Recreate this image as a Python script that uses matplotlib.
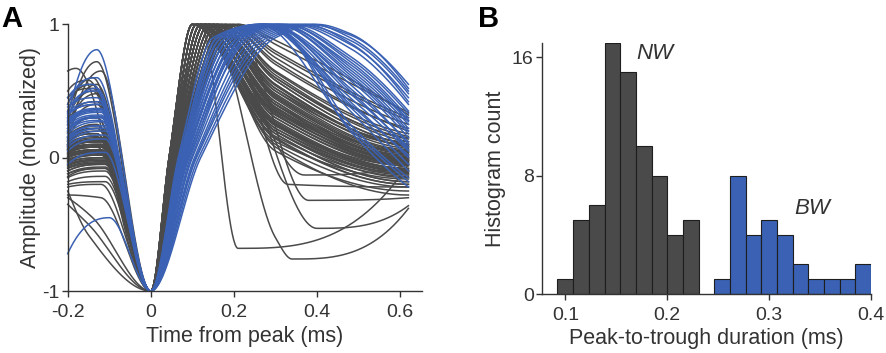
import numpy as np
import matplotlib
matplotlib.use("Agg")
import matplotlib.pyplot as plt

plt.rcParams['font.family'] = ['Liberation Sans', 'DejaVu Sans']
plt.rcParams['axes.unicode_minus'] = False

# ---- panel A: waveform key points ----
# narrow-waveform (gray) units
gray_y0 = [0.05, -0.02, 0.10, 0.00, -0.08, 0.15, 0.02, -0.12, 0.08, 0.20,
           -0.05, 0.03, 0.12, -0.18, 0.06, 0.65, -0.25, 0.00, 0.10, -0.03,
           0.18, -0.10, 0.04, 0.25, -0.15, 0.07, -0.06, 0.14, 0.01, -0.30,
           0.09, 0.30, -0.04, 0.05, -0.20, 0.11, 0.40, -0.08, 0.02, 0.16,
           -0.12, 0.06, 0.22, -0.02, 0.08, -0.35, 0.13, 0.00, -0.07, 0.19,
           0.04, 0.35, -0.14, 0.10, -0.01, 0.07, 0.50, -0.22, 0.03, 0.12,
           -0.05, 0.09, 0.27, -0.10, 0.01, 0.15, -0.28, 0.06, 0.45, -0.03, 0.08]
gray_hump = [0.08, 0.02, 0.16, 0.04, -0.04, 0.30, 0.06, -0.08, 0.12, 0.55,
             -0.01, 0.08, 0.18, -0.14, 0.12, 0.67, -0.58, 0.05, 0.25, 0.02,
             0.40, -0.05, 0.08, 0.72, -0.10, 0.12, -0.02, 0.22, 0.04, -0.45,
             0.14, 0.50, 0.00, 0.10, -0.18, 0.65, 0.55, -0.04, 0.06, 0.24,
             -0.07, 0.10, 0.48, 0.03, 0.12, -0.50, 0.20, 0.04, -0.03, 0.30,
             0.08, 0.60, -0.08, 0.15, 0.02, 0.10, 0.58, -0.20, 0.06, 0.18,
             -0.02, 0.13, 0.42, -0.05, 0.05, 0.22, -0.30, 0.09, 0.52, 0.00, 0.12]
gray_hump_t = [-0.13, -0.12, -0.13, -0.12, -0.11, -0.13, -0.12, -0.11, -0.12, -0.13,
               -0.11, -0.12, -0.13, -0.11, -0.12, -0.18, -0.15, -0.12, -0.13, -0.11,
               -0.13, -0.11, -0.12, -0.13, -0.11, -0.12, -0.11, -0.13, -0.12, -0.14,
               -0.12, -0.14, -0.11, -0.12, -0.11, -0.12, -0.14, -0.11, -0.12, -0.13,
               -0.11, -0.12, -0.13, -0.11, -0.12, -0.15, -0.12, -0.11, -0.11, -0.13,
               -0.12, -0.14, -0.11, -0.12, -0.11, -0.12, -0.15, -0.12, -0.12, -0.13,
               -0.11, -0.12, -0.13, -0.11, -0.12, -0.12, -0.12, -0.12, -0.14, -0.11, -0.12]
gray_tc = [0.050, 0.045, 0.055, 0.048, 0.060, 0.052, 0.044, 0.065, 0.050, 0.058,
           0.047, 0.052, 0.044, 0.070, 0.055, 0.050, 0.052, 0.046, 0.058, 0.062,
           0.050, 0.068, 0.044, 0.055, 0.060, 0.047, 0.052, 0.050, 0.072, 0.058,
           0.044, 0.052, 0.062, 0.047, 0.055, 0.050, 0.060, 0.044, 0.052, 0.065,
           0.058, 0.047, 0.050, 0.068, 0.044, 0.055, 0.052, 0.060, 0.047, 0.050,
           0.055, 0.044, 0.062, 0.050, 0.058, 0.047, 0.052, 0.070, 0.050, 0.055,
           0.060, 0.047, 0.052, 0.044, 0.065, 0.050, 0.058, 0.047, 0.055, 0.052, 0.072]
gray_tp = [0.12, 0.10, 0.14, 0.11, 0.16, 0.13, 0.10, 0.18, 0.12, 0.15,
           0.11, 0.13, 0.10, 0.20, 0.14, 0.12, 0.13, 0.11, 0.15, 0.17,
           0.12, 0.19, 0.10, 0.14, 0.16, 0.11, 0.13, 0.12, 0.21, 0.15,
           0.10, 0.13, 0.17, 0.11, 0.14, 0.12, 0.16, 0.10, 0.13, 0.18,
           0.15, 0.11, 0.12, 0.19, 0.10, 0.14, 0.13, 0.16, 0.11, 0.12,
           0.14, 0.10, 0.17, 0.12, 0.15, 0.11, 0.13, 0.20, 0.12, 0.14,
           0.16, 0.11, 0.13, 0.10, 0.18, 0.12, 0.15, 0.11, 0.14, 0.13, 0.21]
gray_tm = [0.30, 0.30, 0.30, 0.30, 0.30, 0.30, 0.30, 0.30, 0.21, 0.30,
           0.30, 0.30, 0.30, 0.38, 0.30, 0.30, 0.30, 0.30, 0.30, 0.30,
           0.30, 0.30, 0.30, 0.30, 0.40, 0.30, 0.30, 0.30, 0.30, 0.30,
           0.30, 0.30, 0.30, 0.30, 0.30, 0.30, 0.30, 0.30, 0.30, 0.30,
           0.30, 0.30, 0.30, 0.30, 0.30, 0.30, 0.30, 0.30, 0.30, 0.30,
           0.30, 0.30, 0.30, 0.30, 0.30, 0.30, 0.30, 0.30, 0.30, 0.37,
           0.30, 0.30, 0.30, 0.30, 0.33, 0.30, 0.30, 0.30, 0.30, 0.30, 0.30]
gray_mid = [0.35, 0.25, 0.50, 0.20, 0.60, 0.40, 0.15, 0.70, -0.68, 0.55,
            0.28, 0.42, 0.10, -0.32, 0.48, 0.30, 0.38, 0.22, 0.52, 0.65,
            0.32, 0.78, 0.18, 0.45, -0.53, 0.26, 0.40, 0.05, 0.85, 0.50,
            0.20, 0.36, 0.62, 0.24, 0.44, 0.30, 0.58, 0.12, 0.40, 0.72,
            0.55, 0.22, 0.34, 0.75, 0.16, -0.60, 0.38, 0.60, 0.25, 0.08,
            0.46, 0.18, 0.64, 0.32, 0.52, 0.27, 0.42, 0.80, 0.35, -0.13,
            0.58, 0.24, 0.40, 0.14, -0.20, 0.33, 0.54, 0.20, 0.47, 0.37, 0.88]
gray_end = [0.02, -0.10, 0.10, -0.15, 0.15, 0.05, -0.20, 0.22, -0.05, 0.08,
            -0.08, 0.00, -0.22, -0.30, 0.05, -0.05, -0.02, -0.12, 0.12, 0.18,
            -0.03, 0.28, -0.18, 0.04, -0.36, -0.10, 0.00, -0.25, 0.34, 0.06,
            -0.12, -0.04, 0.14, -0.08, 0.02, -0.06, 0.10, -0.16, 0.00, 0.20,
            0.08, -0.10, -0.02, 0.25, -0.14, -0.38, -0.01, 0.12, -0.06, -0.28,
            0.03, -0.18, 0.16, -0.04, 0.07, -0.09, 0.01, 0.30, -0.02, -0.05,
            0.10, -0.11, -0.03, -0.20, -0.22, -0.05, 0.09, -0.13, 0.04, -0.01, 0.32]
# the deepest after-hyperpolarisation (min near 0.34 ms)
deep_dip_t, deep_dip_y = 0.34, -0.76

# broad-waveform (blue) units
blue_y0 = [0.25, 0.30, 0.15, 0.35, 0.20, 0.45, 0.10, 0.28, -0.72, 0.22,
           0.32, 0.18, 0.40, 0.05, 0.26, 0.12, 0.34, 0.24, 0.30, 0.08,
           0.20, 0.38, 0.16, 0.27, -0.05, 0.22, 0.33, 0.14, 0.29]
blue_hump = [0.34, 0.81, 0.24, 0.50, 0.30, 0.55, 0.20, 0.36, -0.45, 0.31,
             0.40, 0.27, 0.60, 0.14, 0.35, 0.22, 0.42, 0.32, 0.52, 0.17,
             0.28, 0.45, 0.24, 0.36, 0.04, 0.30, 0.40, 0.22, 0.37]
blue_hump_t = [-0.12, -0.13, -0.11, -0.13, -0.12, -0.14, -0.11, -0.12, -0.10, -0.12,
               -0.12, -0.11, -0.13, -0.11, -0.12, -0.11, -0.12, -0.12, -0.13, -0.11,
               -0.12, -0.13, -0.11, -0.12, -0.11, -0.12, -0.12, -0.11, -0.12]
blue_tc = [0.075, 0.070, 0.090, 0.072, 0.100, 0.080, 0.085, 0.110, 0.095, 0.088,
           0.068, 0.082, 0.070, 0.105, 0.078, 0.120, 0.086, 0.074, 0.092, 0.080,
           0.090, 0.072, 0.115, 0.076, 0.098, 0.066, 0.108, 0.084, 0.078]
blue_tn = [0.19, 0.16, 0.22, 0.18, 0.25, 0.20, 0.21, 0.28, 0.22, 0.23,
           0.17, 0.21, 0.16, 0.26, 0.19, 0.30, 0.21, 0.18, 0.24, 0.20,
           0.22, 0.17, 0.29, 0.19, 0.23, 0.15, 0.27, 0.21, 0.19]
blue_tp = [0.28, 0.26, 0.32, 0.27, 0.35, 0.30, 0.27, 0.38, 0.29, 0.33,
           0.27, 0.31, 0.26, 0.36, 0.28, 0.40, 0.30, 0.27, 0.34, 0.29,
           0.32, 0.27, 0.39, 0.28, 0.30, 0.26, 0.37, 0.31, 0.28]
blue_mid = [0.55, 0.45, 0.72, 0.35, 0.85, 0.62, 0.42, 0.92, 0.20, 0.76,
            0.58, 0.66, 0.38, 0.88, 0.52, 0.93, 0.70, 0.48, 0.82, 0.25,
            0.74, 0.40, 0.90, 0.60, 0.64, 0.22, 0.86, 0.68, 0.50]
blue_end = [0.10, 0.05, 0.30, -0.10, 0.45, 0.20, 0.00, 0.55, -0.22, 0.35,
            0.15, 0.25, -0.05, 0.48, 0.12, 0.52, 0.28, 0.08, 0.40, -0.15,
            0.33, 0.02, 0.50, 0.18, 0.22, -0.18, 0.42, 0.27, 0.06]

# ---- panel B: peak-to-trough histogram ----
nw_counts = [1, 5, 6, 17, 15, 10, 8, 4, 5]
bw_counts = [1, 8, 4, 5, 4, 2, 1, 1, 1, 2]
bin_lo, bin_hi, n_bins = 0.0922, 0.4, 20

GRAY = '#4a4a4a'
BLUE = '#3a61b3'
TXT = '#333333'
FS_LAB = 15.5
FS_TICK = 14


def pchip(xk, yk, x):
    # monotone cubic through the key points (Fritsch-Carlson)
    xk = np.asarray(xk, float)
    yk = np.asarray(yk, float)
    h = np.diff(xk)
    d = np.diff(yk) / h
    m = np.zeros_like(yk)
    for k in range(1, len(xk) - 1):
        if d[k - 1] * d[k] > 0:
            w1 = 2 * h[k] + h[k - 1]
            w2 = h[k] + 2 * h[k - 1]
            m[k] = (w1 + w2) / (w1 / d[k - 1] + w2 / d[k])
    for i, (h0, h1, d0, d1) in ((0, (h[0], h[1], d[0], d[1])),
                               (-1, (h[-1], h[-2], d[-1], d[-2]))):
        e = ((2 * h0 + h1) * d0 - h0 * d1) / (h0 + h1)
        if np.sign(e) != np.sign(d0):
            e = 0.0
        elif np.sign(d0) != np.sign(d1) and abs(e) > abs(3 * d0):
            e = 3 * d0
        m[i] = e
    idx = np.clip(np.searchsorted(xk, x) - 1, 0, len(xk) - 2)
    t = (x - xk[idx]) / h[idx]
    h00 = 2 * t**3 - 3 * t**2 + 1
    h10 = t**3 - 2 * t**2 + t
    h01 = -2 * t**3 + 3 * t**2
    h11 = t**3 - t**2
    return (h00 * yk[idx] + h10 * h[idx] * m[idx]
            + h01 * yk[idx + 1] + h11 * h[idx] * m[idx + 1])


t = np.linspace(-0.2, 0.62, 500)

fig = plt.figure(figsize=(8.86, 3.53), dpi=100)
axA = fig.add_axes([0.0764, 0.1756, 0.3996, 0.7554])
axB = fig.add_axes([0.6117, 0.167, 0.3715, 0.712])

for i in range(len(gray_y0)):
    tk = [-0.2, gray_hump_t[i], 0.0, gray_tc[i], gray_tp[i], gray_tm[i], 0.62]
    yk = [gray_y0[i], gray_hump[i], -1.0, 0.0, 1.0, gray_mid[i], gray_end[i]]
    if i == 45:
        tk.insert(6, deep_dip_t)
        yk.insert(6, deep_dip_y)
    axA.plot(t, pchip(tk, yk, t), color=GRAY, lw=1.1, clip_on=False)

for i in range(len(blue_y0)):
    tk = [-0.2, blue_hump_t[i], 0.0, blue_tc[i], blue_tn[i], blue_tp[i], 0.48, 0.62]
    yk = [blue_y0[i], blue_hump[i], -1.0, 0.0, 0.9, 1.0, blue_mid[i], blue_end[i]]
    axA.plot(t, pchip(tk, yk, t), color=BLUE, lw=1.1, clip_on=False)

axA.set_xlim(-0.2, 0.652)
axA.set_ylim(-1, 1)
axA.set_xticks([-0.2, 0, 0.2, 0.4, 0.6])
axA.set_xticklabels(['-0.2', '0', '0.2', '0.4', '0.6'])
axA.set_yticks([-1, 0, 1])
axA.set_yticklabels(['-1', '0', '1'])
axA.set_xlabel('Time from peak (ms)', fontsize=FS_LAB, color=TXT, labelpad=4)
axA.set_ylabel('Amplitude (normalized)', fontsize=FS_LAB, color=TXT, labelpad=1)

edges = np.linspace(bin_lo, bin_hi, n_bins + 1)
w = edges[1] - edges[0]
axB.bar(edges[:len(nw_counts)], nw_counts, width=w, align='edge',
        color=GRAY, edgecolor='#1e1e1e', linewidth=0.8)
axB.bar(edges[n_bins - len(bw_counts):n_bins], bw_counts, width=w, align='edge',
        color=BLUE, edgecolor='#1e1e1e', linewidth=0.8)
axB.set_xlim(0.077, 0.4)
axB.set_ylim(0, 17)
axB.set_xticks([0.1, 0.2, 0.3, 0.4])
axB.set_yticks([0, 8, 16])
axB.set_xlabel('Peak-to-trough duration (ms)', fontsize=FS_LAB, color=TXT, labelpad=3)
axB.set_ylabel('Histogram count', fontsize=FS_LAB, color=TXT, labelpad=4)
axB.text(0.188, 16.3, 'NW', fontsize=16, style='italic', color=TXT,
         ha='center', va='center')
axB.text(0.342, 5.8, 'BW', fontsize=16, style='italic', color=TXT,
         ha='center', va='center')

for ax in (axA, axB):
    for s in ('top', 'right'):
        ax.spines[s].set_visible(False)
    for s in ('left', 'bottom'):
        ax.spines[s].set_color(TXT)
        ax.spines[s].set_linewidth(1.0)
    ax.tick_params(direction='out', length=4, width=1.0, color=TXT,
                   labelsize=FS_TICK, labelcolor=TXT, pad=2)
    ax.tick_params(axis='x', pad=5)

fig.text(0.001, 0.985, 'A', fontsize=21, fontweight='bold', va='top')
fig.text(0.540, 0.985, 'B', fontsize=21, fontweight='bold', va='top')

fig.savefig('out.png', dpi=100)
